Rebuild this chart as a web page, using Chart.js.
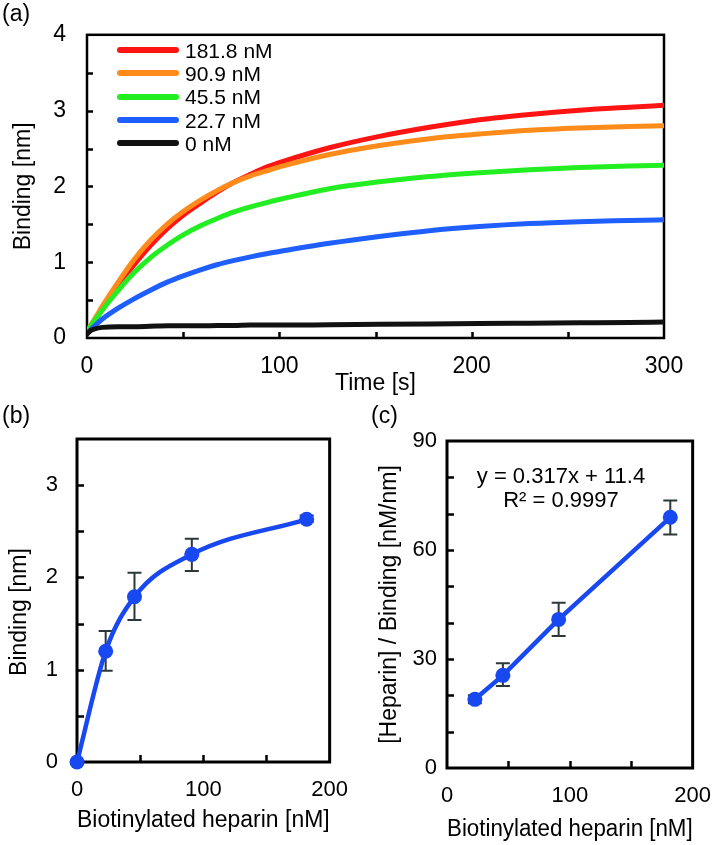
<!DOCTYPE html>
<html><head><meta charset="utf-8">
<script src="https://cdn.jsdelivr.net/npm/chart.js@4.4.1/dist/chart.umd.min.js"></script>
<style>
body{margin:0;background:#fff;width:726px;height:845px;position:relative;overflow:hidden;font-family:"Liberation Sans",Arial,sans-serif;color:#000}
canvas{position:absolute}
.t{position:absolute;line-height:1;white-space:nowrap}
.lg{position:absolute;height:6px;border-radius:3px}
</style></head><body>
<canvas id="ca" width="726" height="400" style="left:0;top:0"></canvas>
<canvas id="cb" width="363" height="445" style="left:0;top:400px"></canvas>
<canvas id="cc" width="363" height="445" style="left:363px;top:400px"></canvas>
<div class="t" style="left:2px;top:2px;font-size:23px">(a)</div>
<div class="t" style="left:2px;top:404px;font-size:23px">(b)</div>
<div class="t" style="left:371px;top:404px;font-size:23px">(c)</div>
<div class="t" style="left:461px;width:200px;text-align:center;top:465px;font-size:22px">y = 0.317x + 11.4</div>
<div class="t" style="left:461px;width:200px;text-align:center;top:489px;font-size:22px">R² = 0.9997</div>
<div id="legend"></div>
<script>
// ---- Panel (a): binding kinetics ----
const timeA = [0, 2, 4, 8, 16, 24, 33, 42, 50, 59, 68, 76, 85, 94, 102, 126, 152, 178, 204, 230, 256, 282, 300];
const conc181 = [0.08,0.16,0.23,0.38,0.67,0.95,1.22,1.45,1.62,1.78,1.93,2.05,2.16,2.26,2.33,2.51,2.66,2.78,2.88,2.95,3.005,3.045,3.07];
const conc909 = [0.08,0.17,0.25,0.42,0.73,1.02,1.29,1.51,1.67,1.82,1.95,2.05,2.14,2.21,2.27,2.42,2.54,2.63,2.69,2.74,2.77,2.79,2.80];
const conc455 = [0.08,0.16,0.23,0.37,0.62,0.85,1.06,1.23,1.36,1.48,1.58,1.66,1.73,1.79,1.84,1.97,2.06,2.13,2.18,2.22,2.25,2.27,2.28];
const conc227 = [0.06,0.11,0.16,0.25,0.39,0.51,0.63,0.74,0.82,0.90,0.97,1.02,1.07,1.115,1.15,1.25,1.34,1.415,1.47,1.51,1.535,1.55,1.56];
const conc0   = [0.05,0.10,0.12,0.14,0.15,0.15,0.155,0.16,0.16,0.16,0.165,0.165,0.17,0.17,0.17,0.175,0.18,0.185,0.19,0.195,0.20,0.205,0.21];
const seriesLabels = ['181.8 nM','90.9 nM','45.5 nM','22.7 nM','0 nM'];
const seriesColors = ['#ff1414','#ff8c1a','#22ee22','#1f5fff','#111111'];
const seriesValues = [conc181, conc909, conc455, conc227, conc0];

// ---- Panel (b): saturation ----
const concB = [0, 22.7, 45.5, 90.9, 181.8];
const bindB = [0, 1.20, 1.79, 2.25, 2.63];
const bindBLo = [null, 0.99, 1.54, 2.07, 2.60];
const bindBHi = [null, 1.42, 2.05, 2.42, 2.67];

// ---- Panel (c): linearized ----
const concC = [22.7, 45.5, 90.9, 181.8];
const ratioC = [18.9, 25.5, 40.9, 69.0];
const ratioCLo = [17.8, 22.6, 36.3, 64.3];
const ratioCHi = [20.0, 28.8, 45.5, 73.6];

const FONT = '"Liberation Sans", Arial, sans-serif';
const BLUE = '#1848f0';

const framePlugin = {
  id: 'frame',
  beforeDatasetsDraw(chart, args, o) {
    const {ctx, chartArea: a, scales} = chart;
    ctx.save();
    ctx.strokeStyle = '#000';
    ctx.lineWidth = o.lw;
    ctx.strokeRect(a.left, a.top, a.right - a.left, a.bottom - a.top);
    ctx.lineWidth = o.tw;
    ctx.beginPath();
    scales.x.ticks.forEach(t => {
      if (t.value <= scales.x.min || t.value >= scales.x.max) return;
      const p = Math.round(scales.x.getPixelForValue(t.value)) + 0.5;
      ctx.moveTo(p, a.bottom); ctx.lineTo(p, a.bottom - o.len);
    });
    scales.y.ticks.forEach(t => {
      if (t.value <= scales.y.min || t.value >= scales.y.max) return;
      const p = Math.round(scales.y.getPixelForValue(t.value)) + 0.5;
      ctx.moveTo(a.left, p); ctx.lineTo(a.left + o.len, p);
    });
    ctx.stroke();
    if (o.err) {
      const e = o.err;
      ctx.strokeStyle = '#2c3838';
      ctx.lineWidth = 2;
      ctx.beginPath();
      e.x.forEach((xv, i) => {
        if (e.lo[i] == null) return;
        const px = scales.x.getPixelForValue(xv);
        const y1 = scales.y.getPixelForValue(e.lo[i]);
        const y2 = scales.y.getPixelForValue(e.hi[i]);
        ctx.moveTo(px, y1); ctx.lineTo(px, y2);
        ctx.moveTo(px - 7, y1); ctx.lineTo(px + 7, y1);
        ctx.moveTo(px - 7, y2); ctx.lineTo(px + 7, y2);
      });
      ctx.stroke();
    }
    ctx.restore();
  }
};

function fixSize(w) { return s => { s.width = w; }; }
function fixH(h) { return s => { s.height = h; }; }

function axisOpts(cfg) {
  return {
    type: 'linear', min: cfg.min, max: cfg.max,
    grid: {display: false, drawTicks: false, tickLength: 0},
    border: {display: false},
    ticks: {
      stepSize: cfg.step, autoSkip: false, maxRotation: 0, color: '#000',
      padding: cfg.pad, font: {family: FONT, size: cfg.fs},
      callback: v => (Math.abs(v / cfg.lab - Math.round(v / cfg.lab)) < 1e-6 ? String(v) : '')
    },
    title: {display: true, text: cfg.title, color: '#000', font: {family: FONT, size: 23},
            padding: cfg.tpad},
    afterFit: cfg.fit
  };
}

// Chart (a)
new Chart(document.getElementById('ca'), {
  type: 'line',
  data: {
    datasets: seriesValues.map((vals, i) => ({
      label: seriesLabels[i],
      data: timeA.map((t, j) => ({x: t, y: vals[j]})),
      borderColor: seriesColors[i], borderWidth: 5, pointRadius: 0,
      cubicInterpolationMode: 'monotone', order: 5 - i, fill: false,
      borderCapStyle: 'round', borderJoinStyle: 'round'
    }))
  },
  options: {
    responsive: false, animation: false, devicePixelRatio: 1,
    layout: {padding: {left: 0, top: 32, right: 62, bottom: 0}},
    plugins: {legend: {display: false}, tooltip: {enabled: false},
      frame: {lw: 2.5, tw: 2.5, len: 6}},
    scales: {
      x: axisOpts({min: 0, max: 300, step: 50, lab: 100, pad: 15, fs: 23, title: 'Time [s]',
                   tpad: {top: 0, bottom: 3}, fit: fixH(62)}),
      y: axisOpts({min: 0, max: 4, step: 0.5, lab: 1, pad: 21, fs: 23, title: 'Binding [nm]',
                   tpad: {top: 10, bottom: 0}, fit: fixSize(87)})
    }
  },
  plugins: [framePlugin]
});

// Legend (a)
const lg = document.getElementById('legend');
seriesLabels.forEach((lab, i) => {
  const y = 50 + i * 23.3;
  const line = document.createElement('div');
  line.className = 'lg';
  line.style.cssText = `left:117px;width:62px;top:${y - 3}px;background:${seriesColors[i]}`;
  lg.appendChild(line);
  const tx = document.createElement('div');
  tx.className = 't';
  tx.style.cssText = `left:185px;top:${y - 10.2}px;font-size:21px`;
  tx.textContent = lab;
  lg.appendChild(tx);
});

// Chart (b)
new Chart(document.getElementById('cb'), {
  type: 'line',
  data: {
    datasets: [{
      data: concB.map((x, i) => ({x, y: bindB[i]})),
      borderColor: BLUE, backgroundColor: BLUE, borderWidth: 4.5,
      pointRadius: 7.5, pointBackgroundColor: BLUE, pointBorderWidth: 0,
      cubicInterpolationMode: 'monotone', clip: false
    }]
  },
  options: {
    responsive: false, animation: false, devicePixelRatio: 1,
    layout: {padding: {left: 0, top: 39, right: 25, bottom: 0}},
    plugins: {legend: {display: false}, tooltip: {enabled: false},
      frame: {lw: 3, tw: 2.5, len: 7, err: {x: concB, lo: bindBLo, hi: bindBHi}}},
    scales: {
      x: axisOpts({min: 0, max: 200, step: 50, lab: 100, pad: 15, fs: 22, title: 'Biotinylated heparin [nM]',
                   tpad: {top: 0, bottom: 11}, fit: fixH(83)}),
      y: axisOpts({min: 0, max: 3.5, step: 0.5, lab: 1, pad: 19, fs: 22, title: 'Binding [nm]\u2003',
                   tpad: {top: 6, bottom: 0}, fit: fixSize(77)})
    }
  },
  plugins: [framePlugin]
});

// Chart (c)
new Chart(document.getElementById('cc'), {
  type: 'line',
  data: {
    datasets: [{
      data: concC.map((x, i) => ({x, y: ratioC[i]})),
      borderColor: BLUE, backgroundColor: BLUE, borderWidth: 4.5,
      pointRadius: 7.5, pointBackgroundColor: BLUE, pointBorderWidth: 0,
      tension: 0, clip: false
    }]
  },
  options: {
    responsive: false, animation: false, devicePixelRatio: 1,
    layout: {padding: {left: 0, top: 41, right: 22, bottom: 0}},
    plugins: {legend: {display: false}, tooltip: {enabled: false},
      frame: {lw: 3, tw: 2.5, len: 7, err: {x: concC, lo: ratioCLo, hi: ratioCHi}}},
    scales: {
      x: axisOpts({min: 0, max: 200, step: 50, lab: 100, pad: 15, fs: 22, title: 'Biotinylated heparin [nM]',
                   tpad: {top: 0, bottom: 2}, fit: fixH(77)}),
      y: axisOpts({min: 0, max: 90, step: 10, lab: 30, pad: 10, fs: 22, title: '[Heparin] / Binding [nM/nm]',
                   tpad: {top: 13, bottom: 0}, fit: fixSize(84)})
    }
  },
  plugins: [framePlugin]
});
</script>
</body></html>
